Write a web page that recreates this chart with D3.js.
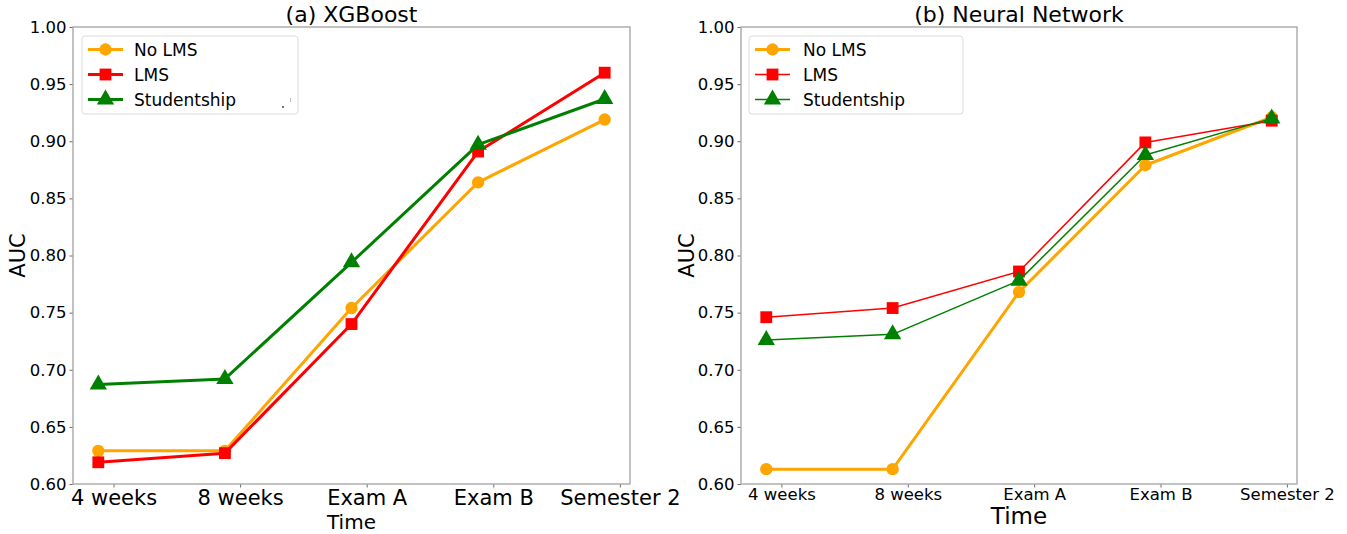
<!DOCTYPE html>
<html>
<head>
<meta charset="utf-8">
<script src="https://cdn.jsdelivr.net/npm/d3@7"></script>
<style>
  html, body { margin: 0; padding: 0; background: #fff; }
  svg { display: block; font-family: "DejaVu Sans", sans-serif; }
</style>
</head>
<body>
<svg id="chart" width="1347" height="534"></svg>
<script>
// Time points at which the AUC was measured
const timePoints = ["4 weeks", "8 weeks", "Exam A", "Exam B", "Semester 2"];
const yTicks = [0.60, 0.65, 0.70, 0.75, 0.80, 0.85, 0.90, 0.95, 1.00];
const seriesNames = ["No LMS", "LMS", "Studentship"];

// (a) XGBoost AUC per feature set
const xgbNoLMS       = [0.629, 0.629, 0.754, 0.864, 0.919];
const xgbLMS         = [0.619, 0.627, 0.740, 0.891, 0.960];
const xgbStudentship = [0.687, 0.692, 0.794, 0.897, 0.937];

// (b) Neural network AUC per feature set
const nnNoLMS        = [0.613, 0.613, 0.768, 0.879, 0.921];
const nnLMS          = [0.746, 0.754, 0.786, 0.899, 0.918];
const nnStudentship  = [0.726, 0.731, 0.778, 0.888, 0.920];

const colors  = { "No LMS": "#ffa500", "LMS": "#ff0000", "Studentship": "#008000" };
const symbols = { "No LMS": d3.symbolCircle, "LMS": d3.symbolSquare, "Studentship": d3.symbolTriangle };
const symbolSizes = { "No LMS": 120, "LMS": 140, "Studentship": 130 };

// points sit slightly left of their category tick
const pointShift = -0.12;

const svg = d3.select("#chart");

const panels = [
  {
    title: "(a) XGBoost",
    left: 73, right: 630,
    series: [xgbNoLMS, xgbLMS, xgbStudentship],
    widths: [3, 3, 3],
    xTickFont: 21, timeFont: 20, timeBaseline: 529, xTickBaseline: 505,
    auc: 17,
    legend: { x: 82, w: 216, lineX0: 88, lineX1: 123, textX: 134 },
    artifact: true
  },
  {
    title: "(b) Neural Network",
    left: 741, right: 1297,
    series: [nnNoLMS, nnLMS, nnStudentship],
    widths: [3, 1.5, 1.5],
    xTickFont: 16.5, timeFont: 23, timeBaseline: 524, xTickBaseline: 500,
    auc: 686,
    legend: { x: 749, w: 214, lineX0: 755, lineX1: 790, textX: 803 },
    artifact: false
  }
];

const plotTop = 27, plotBottom = 484;
const spineColor = "#a8a8a8";

panels.forEach(p => {
  const g = svg.append("g");
  const x = d3.scaleLinear().domain([-0.32, 4.08]).range([p.left, p.right]);
  const y = d3.scaleLinear().domain([0.6, 1.0]).range([plotBottom, plotTop]);

  // y axis ticks and labels
  const yAxis = d3.axisLeft(y).tickValues(yTicks).tickFormat(d3.format(".2f")).tickSize(3.5).tickPadding(3);
  const ya = g.append("g").attr("transform", `translate(${p.left},0)`).call(yAxis);
  ya.select(".domain").remove();
  ya.selectAll(".tick line").attr("stroke", "#444").attr("stroke-width", 0.8);
  ya.selectAll(".tick text").attr("font-size", 16.5).attr("fill", "#000")
    .attr("font-family", "DejaVu Sans");

  // x axis ticks and labels
  const xAxis = d3.axisBottom(x).tickValues(d3.range(timePoints.length))
    .tickFormat(i => timePoints[i]).tickSize(3.5).tickPadding(3);
  const xa = g.append("g").attr("transform", `translate(0,${plotBottom})`).call(xAxis);
  xa.select(".domain").remove();
  xa.selectAll(".tick line").attr("stroke", "#444").attr("stroke-width", 0.8);
  xa.selectAll(".tick text").attr("font-size", p.xTickFont).attr("fill", "#000")
    .attr("font-family", "DejaVu Sans")
    .attr("dy", null).attr("y", p.xTickBaseline - plotBottom);

  // frame
  g.append("rect")
    .attr("x", p.left).attr("y", plotTop)
    .attr("width", p.right - p.left).attr("height", plotBottom - plotTop)
    .attr("fill", "none").attr("stroke", spineColor).attr("stroke-width", 1.4);

  // series lines and markers
  const line = d3.line().x((d, i) => x(i + pointShift)).y(d => y(d));
  p.series.forEach((vals, k) => {
    const name = seriesNames[k];
    g.append("path").datum(vals)
      .attr("d", line).attr("fill", "none")
      .attr("stroke", colors[name]).attr("stroke-width", p.widths[k])
      .attr("stroke-linejoin", "round");
    g.selectAll(null).data(vals).enter().append("path")
      .attr("transform", (d, i) => `translate(${x(i + pointShift)},${y(d)})`)
      .attr("d", d3.symbol().type(symbols[name]).size(symbolSizes[name]))
      .attr("fill", colors[name]);
  });

  // legend
  const L = p.legend;
  const lg = g.append("g");
  lg.append("rect").attr("x", L.x).attr("y", 36).attr("width", L.w).attr("height", 78)
    .attr("rx", 3).attr("fill", "#fff").attr("fill-opacity", 0.8)
    .attr("stroke", "#dcdcdc").attr("stroke-width", 1);
  const rowY = [49.5, 74.5, 99.5];
  seriesNames.forEach((name, k) => {
    const cy = rowY[k];
    lg.append("line").attr("x1", L.lineX0).attr("x2", L.lineX1)
      .attr("y1", cy).attr("y2", cy)
      .attr("stroke", colors[name]).attr("stroke-width", p.widths[k]);
    lg.append("path")
      .attr("transform", `translate(${(L.lineX0 + L.lineX1) / 2},${cy})`)
      .attr("d", d3.symbol().type(symbols[name]).size(symbolSizes[name]))
      .attr("fill", colors[name]);
    lg.append("text").attr("x", L.textX).attr("y", cy + 6)
      .attr("font-size", 17).attr("fill", "#000").text(name);
  });
  if (p.artifact) {
    lg.append("rect").attr("x", 282).attr("y", 106).attr("width", 2).attr("height", 2).attr("fill", "#777");
    lg.append("rect").attr("x", 290).attr("y", 98).attr("width", 1).attr("height", 4).attr("fill", "#bbb");
  }

  // titles
  const cx = (p.left + p.right) / 2;
  g.append("text").attr("x", cx).attr("y", 22).attr("text-anchor", "middle")
    .attr("font-size", 22).attr("fill", "#000").text(p.title);
  g.append("text").attr("x", cx).attr("y", p.timeBaseline).attr("text-anchor", "middle")
    .attr("font-size", p.timeFont).attr("fill", "#000").text("Time");
  g.append("text")
    .attr("transform", `translate(${p.auc + 7.5},${(plotTop + plotBottom) / 2}) rotate(-90)`)
    .attr("text-anchor", "middle").attr("font-size", 21).attr("fill", "#000").text("AUC");
});
</script>
</body>
</html>
